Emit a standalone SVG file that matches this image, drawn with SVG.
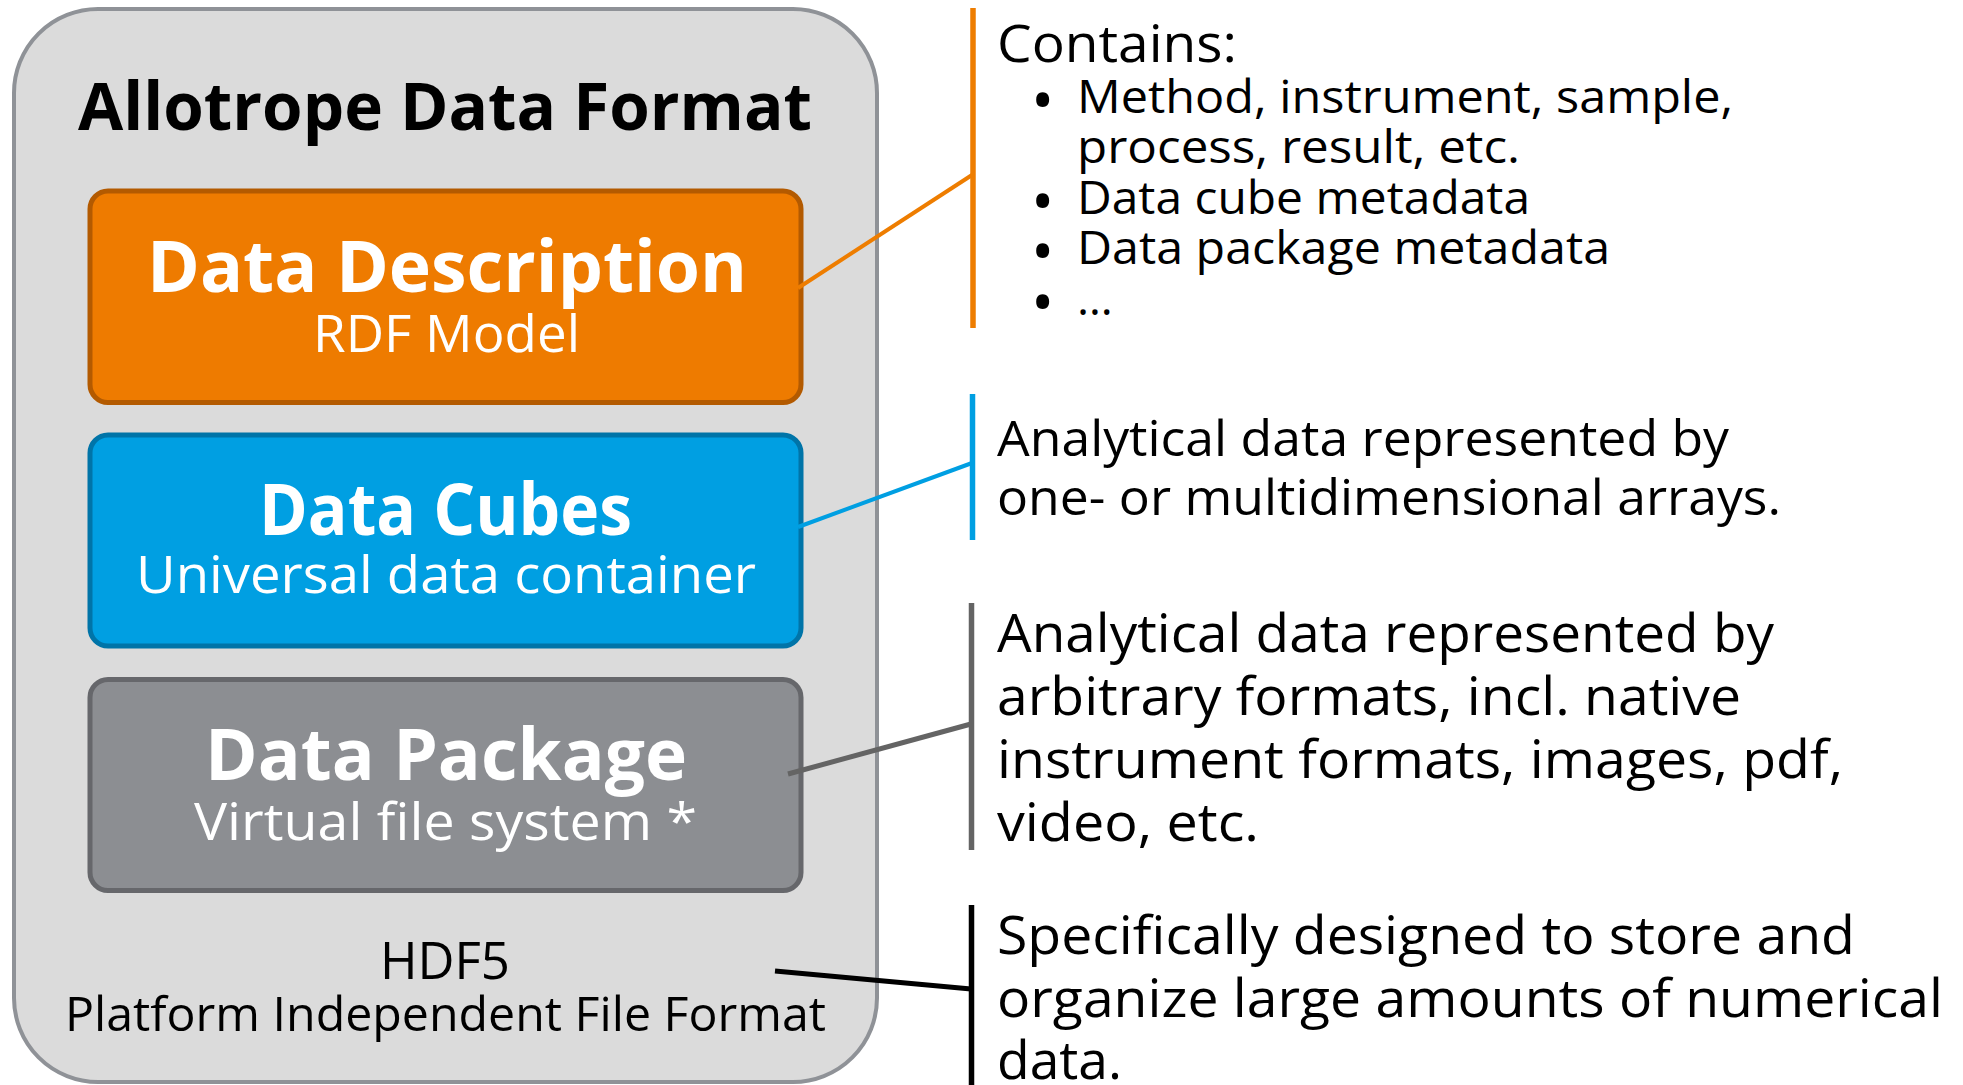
<svg xmlns="http://www.w3.org/2000/svg" width="1963" height="1085" viewBox="0 0 1963 1085">
<style>
text { font-family: "Open Sans", "Noto Sans", "DejaVu Sans", sans-serif; }
.title { font-size: 67px; font-weight: 700; fill: #000; }
.head { font-size: 72px; font-weight: 700; fill: #fff; }
.sub { font-size: 51px; fill: #fff; }
.hdf { font-size: 52px; fill: #000; }
.hdf2 { font-size: 48px; fill: #000; }
.desc { font-size: 51px; fill: #000; }
.item { font-size: 46px; fill: #000; }
.bul { font-size: 62px; }
.blue { font-size: 50px; fill: #000; }
.big { font-size: 53px; fill: #000; }
.conn { fill: none; }
</style>
<rect width="1963" height="1085" fill="#ffffff"/>
<g id="allotrope-data-format">
  <rect x="14" y="9" width="863" height="1073" rx="84" ry="84" fill="#dbdbdb" stroke="#8f9297" stroke-width="4"/>
  <text class="title" x="78" y="130" textLength="734" lengthAdjust="spacingAndGlyphs">Allotrope Data Format</text>
</g>
<g id="data-description">
  <rect x="90" y="191" width="711" height="211.5" rx="18" ry="18" fill="#ee7b00" stroke="#b35a00" stroke-width="5"/>
  <text class="head" x="147" y="292" textLength="600" lengthAdjust="spacingAndGlyphs">Data Description</text>
  <text class="sub" x="313" y="352" textLength="267" lengthAdjust="spacingAndGlyphs">RDF Model</text>
</g>
<g id="data-cubes">
  <rect x="90" y="435" width="711" height="211" rx="18" ry="18" fill="#009fe2" stroke="#0074a8" stroke-width="5"/>
  <text class="head" x="259" y="535" textLength="373" lengthAdjust="spacingAndGlyphs">Data Cubes</text>
  <text class="sub" x="136" y="593" textLength="620" lengthAdjust="spacingAndGlyphs">Universal data container</text>
</g>
<g id="data-package">
  <rect x="90" y="679.5" width="711" height="211" rx="18" ry="18" fill="#8c8e92" stroke="#66676b" stroke-width="5"/>
  <text class="head" x="205" y="780" textLength="482" lengthAdjust="spacingAndGlyphs">Data Package</text>
  <text class="sub" x="194" y="840" textLength="503" lengthAdjust="spacingAndGlyphs">Virtual file system *</text>
</g>
<g id="hdf5">
  <text class="hdf" x="380" y="979" textLength="130" lengthAdjust="spacingAndGlyphs">HDF5</text>
  <text class="hdf2" x="65" y="1031" textLength="761" lengthAdjust="spacingAndGlyphs">Platform Independent File Format</text>
</g>
<g id="connectors">
  <line class="conn" x1="798" y1="288" x2="972" y2="175" stroke="#ee7d00" stroke-width="4"/>
  <line class="conn" x1="973" y1="8" x2="973" y2="328" stroke="#ee7d00" stroke-width="5.5"/>
  <line class="conn" x1="798" y1="527" x2="972" y2="463" stroke="#009fe2" stroke-width="4"/>
  <line class="conn" x1="972.5" y1="394" x2="972.5" y2="540" stroke="#009fe2" stroke-width="5.5"/>
  <line class="conn" x1="788" y1="774" x2="971" y2="724" stroke="#646464" stroke-width="5"/>
  <line class="conn" x1="971.5" y1="603" x2="971.5" y2="850" stroke="#646464" stroke-width="5.5"/>
  <line class="conn" x1="775" y1="971" x2="971" y2="989" stroke="#000000" stroke-width="5"/>
  <line class="conn" x1="971.5" y1="905" x2="971.5" y2="1085" stroke="#000000" stroke-width="5.5"/>
</g>
<g id="desc-description">
  <text class="desc" x="997" y="61.5" textLength="240" lengthAdjust="spacingAndGlyphs">Contains:</text>
  <text class="item"><tspan class="bul" x="1031" y="122">•</tspan><tspan x="1077" y="113" textLength="656" lengthAdjust="spacingAndGlyphs">Method, instrument, sample,</tspan></text>
  <text class="item" x="1077" y="163" textLength="443" lengthAdjust="spacingAndGlyphs">process, result, etc.</text>
  <text class="item"><tspan class="bul" x="1031" y="223">•</tspan><tspan x="1077" y="214" textLength="453" lengthAdjust="spacingAndGlyphs">Data cube metadata</tspan></text>
  <text class="item"><tspan class="bul" x="1031" y="273">•</tspan><tspan x="1077" y="264" textLength="533" lengthAdjust="spacingAndGlyphs">Data package metadata</tspan></text>
  <text class="item"><tspan class="bul" x="1031" y="324">•</tspan><tspan x="1077" y="315">…</tspan></text>
</g>
<g id="desc-cubes">
  <text class="blue" x="997" y="456" textLength="732" lengthAdjust="spacingAndGlyphs">Analytical data represented by</text>
  <text class="blue" x="997" y="515" textLength="784" lengthAdjust="spacingAndGlyphs">one- or multidimensional arrays.</text>
</g>
<g id="desc-package">
  <text class="big" x="997" y="652" textLength="777" lengthAdjust="spacingAndGlyphs">Analytical data represented by</text>
  <text class="big" x="997" y="715" textLength="744" lengthAdjust="spacingAndGlyphs">arbitrary formats, incl. native</text>
  <text class="big" x="997" y="778" textLength="846" lengthAdjust="spacingAndGlyphs">instrument formats, images, pdf,</text>
  <text class="big" x="997" y="841" textLength="262" lengthAdjust="spacingAndGlyphs">video, etc.</text>
</g>
<g id="desc-hdf5">
  <text class="big" x="997" y="954" textLength="858" lengthAdjust="spacingAndGlyphs">Specifically designed to store and</text>
  <text class="big" x="997" y="1017" textLength="946" lengthAdjust="spacingAndGlyphs">organize large amounts of numerical</text>
  <text class="big" x="997" y="1079" textLength="125" lengthAdjust="spacingAndGlyphs">data.</text>
</g>
</svg>
